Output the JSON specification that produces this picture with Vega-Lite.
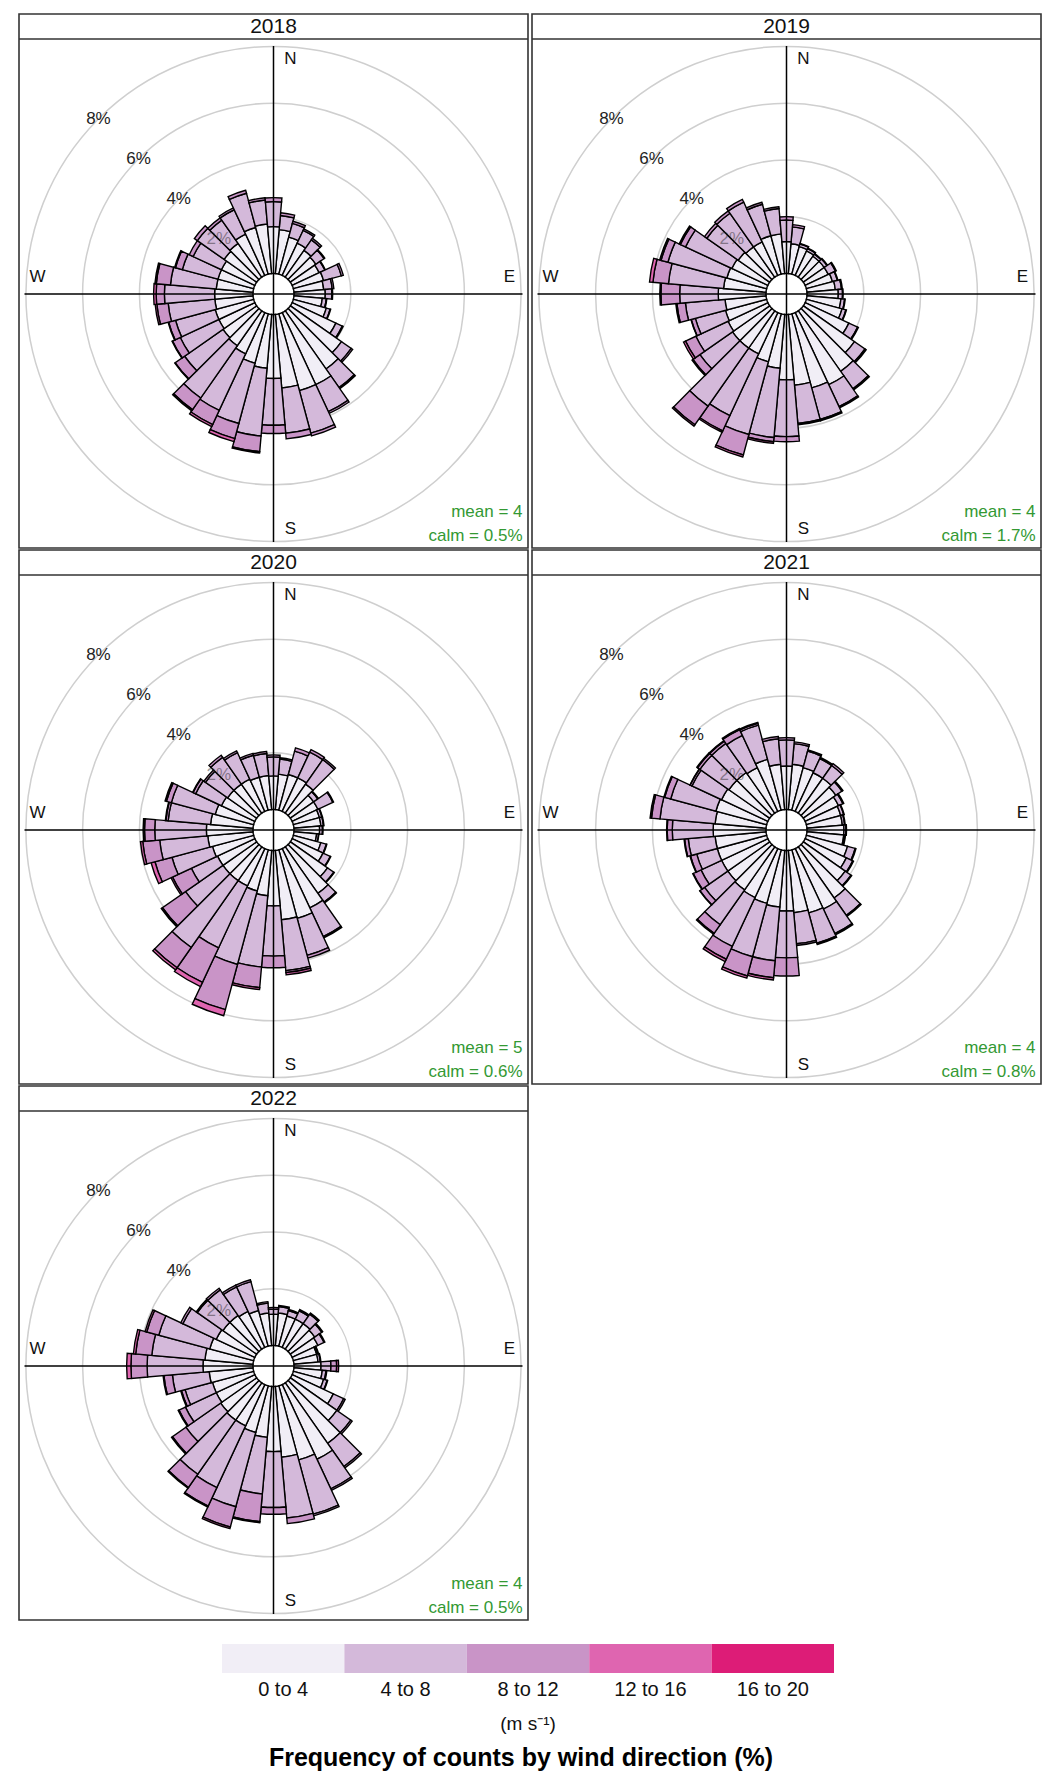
{
"$schema":"https://vega.github.io/schema/vega-lite/v6.json",
"padding":{"left":17,"top":13,"right":2,"bottom":0},
"background":"white",
"spacing":0,
"config":{"view":{"stroke":"#333333","strokeWidth":1.6},"font":"Liberation Sans","text":{"font":"Liberation Sans"}},
"datasets":{"rose":[
{"kind":"m","yr":2018,"mean_txt":"mean = 4","calm_txt":"calm = 0.5%"},
{"kind":"m","yr":2019,"mean_txt":"mean = 4","calm_txt":"calm = 1.7%"},
{"kind":"m","yr":2020,"mean_txt":"mean = 5","calm_txt":"calm = 0.6%"},
{"kind":"m","yr":2021,"mean_txt":"mean = 4","calm_txt":"calm = 0.8%"},
{"kind":"m","yr":2022,"mean_txt":"mean = 4","calm_txt":"calm = 0.5%"},
{"kind":"r","yr":2018,"g":2,"lab":"2%"},{"kind":"r","yr":2018,"g":4,"lab":"4%"},{"kind":"r","yr":2018,"g":6,"lab":"6%"},{"kind":"r","yr":2018,"g":8,"lab":"8%"},
{"kind":"r","yr":2019,"g":2,"lab":"2%"},{"kind":"r","yr":2019,"g":4,"lab":"4%"},{"kind":"r","yr":2019,"g":6,"lab":"6%"},{"kind":"r","yr":2019,"g":8,"lab":"8%"},
{"kind":"r","yr":2020,"g":2,"lab":"2%"},{"kind":"r","yr":2020,"g":4,"lab":"4%"},{"kind":"r","yr":2020,"g":6,"lab":"6%"},{"kind":"r","yr":2020,"g":8,"lab":"8%"},
{"kind":"r","yr":2021,"g":2,"lab":"2%"},{"kind":"r","yr":2021,"g":4,"lab":"4%"},{"kind":"r","yr":2021,"g":6,"lab":"6%"},{"kind":"r","yr":2021,"g":8,"lab":"8%"},
{"kind":"r","yr":2022,"g":2,"lab":"2%"},{"kind":"r","yr":2022,"g":4,"lab":"4%"},{"kind":"r","yr":2022,"g":6,"lab":"6%"},{"kind":"r","yr":2022,"g":8,"lab":"8%"},
{"kind":"w","yr":2018,"wd":10,"s1":1.55,"s2":0.50,"s3":0.10},
{"kind":"w","yr":2018,"wd":20,"s1":1.35,"s2":0.50,"s3":0.08},
{"kind":"w","yr":2018,"wd":30,"s1":1.25,"s2":0.50,"s3":0.06},
{"kind":"w","yr":2018,"wd":40,"s1":1.15,"s2":0.45,"s3":0.07},
{"kind":"w","yr":2018,"wd":50,"s1":1.10,"s2":0.35,"s3":0.03},
{"kind":"w","yr":2018,"wd":60,"s1":1.05,"s2":0.22,"s3":0.02},
{"kind":"w","yr":2018,"wd":70,"s1":1.10,"s2":0.65,"s3":0.07},
{"kind":"w","yr":2018,"wd":80,"s1":1.05,"s2":0.30,"s3":0.06},
{"kind":"w","yr":2018,"wd":90,"s1":1.10,"s2":0.23,"s3":0.03},
{"kind":"w","yr":2018,"wd":100,"s1":1.00,"s2":0.14,"s3":0.02},
{"kind":"w","yr":2018,"wd":110,"s1":1.20,"s2":0.14,"s3":0.02},
{"kind":"w","yr":2018,"wd":120,"s1":1.70,"s2":0.25,"s3":0.03},
{"kind":"w","yr":2018,"wd":130,"s1":2.20,"s2":0.42,"s3":0.06},
{"kind":"w","yr":2018,"wd":140,"s1":2.50,"s2":0.80,"s3":0.05},
{"kind":"w","yr":2018,"wd":150,"s1":2.80,"s2":1.05,"s3":0.07},
{"kind":"w","yr":2018,"wd":160,"s1":2.80,"s2":1.55,"s3":0.10},
{"kind":"w","yr":2018,"wd":170,"s1":2.60,"s2":1.60,"s3":0.20},
{"kind":"w","yr":2018,"wd":180,"s1":2.25,"s2":1.65,"s3":0.29},
{"kind":"w","yr":2018,"wd":190,"s1":1.90,"s2":2.40,"s3":0.55,"s4":0.05},
{"kind":"w","yr":2018,"wd":200,"s1":1.80,"s2":2.20,"s3":0.55,"s4":0.11},
{"kind":"w","yr":2018,"wd":210,"s1":1.60,"s2":2.20,"s3":0.55,"s4":0.08},
{"kind":"w","yr":2018,"wd":220,"s1":1.50,"s2":2.25,"s3":0.50,"s4":0.05},
{"kind":"w","yr":2018,"wd":230,"s1":1.45,"s2":1.65,"s3":0.40,"s4":0.02},
{"kind":"w","yr":2018,"wd":240,"s1":1.40,"s2":1.50,"s3":0.30,"s4":0.02},
{"kind":"w","yr":2018,"wd":250,"s1":1.40,"s2":1.45,"s3":0.25,"s4":0.02},
{"kind":"w","yr":2018,"wd":260,"s1":1.35,"s2":1.65,"s3":0.40,"s4":0.06},
{"kind":"w","yr":2018,"wd":270,"s1":1.35,"s2":1.77,"s3":0.29,"s4":0.09},
{"kind":"w","yr":2018,"wd":280,"s1":1.30,"s2":1.62,"s3":0.50,"s4":0.05},
{"kind":"w","yr":2018,"wd":290,"s1":1.30,"s2":1.30,"s3":0.25,"s4":0.03},
{"kind":"w","yr":2018,"wd":300,"s1":1.30,"s2":1.10,"s3":0.15},
{"kind":"w","yr":2018,"wd":310,"s1":1.40,"s2":1.15,"s3":0.13},
{"kind":"w","yr":2018,"wd":320,"s1":1.45,"s2":1.00,"s3":0.10},
{"kind":"w","yr":2018,"wd":330,"s1":1.60,"s2":0.95,"s3":0.07},
{"kind":"w","yr":2018,"wd":340,"s1":1.70,"s2":1.25,"s3":0.11},
{"kind":"w","yr":2018,"wd":350,"s1":1.75,"s2":0.85,"s3":0.08},
{"kind":"w","yr":2018,"wd":360,"s1":1.65,"s2":0.88,"s3":0.14},
{"kind":"w","yr":2019,"wd":10,"s1":1.05,"s2":0.60,"s3":0.08},
{"kind":"w","yr":2019,"wd":20,"s1":1.00,"s2":0.10,"s3":0.02},
{"kind":"w","yr":2019,"wd":30,"s1":0.95,"s2":0.09,"s3":0.02},
{"kind":"w","yr":2019,"wd":40,"s1":0.90,"s2":0.09,"s3":0.02},
{"kind":"w","yr":2019,"wd":50,"s1":0.90,"s2":0.12,"s3":0.02},
{"kind":"w","yr":2019,"wd":60,"s1":0.90,"s2":0.28,"s3":0.03},
{"kind":"w","yr":2019,"wd":70,"s1":0.95,"s2":0.18,"s3":0.02},
{"kind":"w","yr":2019,"wd":80,"s1":1.00,"s2":0.22,"s3":0.03},
{"kind":"w","yr":2019,"wd":90,"s1":1.10,"s2":0.15,"s3":0.02},
{"kind":"w","yr":2019,"wd":100,"s1":1.20,"s2":0.13,"s3":0.02},
{"kind":"w","yr":2019,"wd":110,"s1":1.30,"s2":0.14,"s3":0.02},
{"kind":"w","yr":2019,"wd":120,"s1":1.70,"s2":0.34,"s3":0.03},
{"kind":"w","yr":2019,"wd":130,"s1":2.20,"s2":0.45,"s3":0.05},
{"kind":"w","yr":2019,"wd":140,"s1":2.60,"s2":0.75,"s3":0.05},
{"kind":"w","yr":2019,"wd":150,"s1":2.80,"s2":0.85,"s3":0.05},
{"kind":"w","yr":2019,"wd":160,"s1":2.70,"s2":1.15,"s3":0.05},
{"kind":"w","yr":2019,"wd":170,"s1":2.50,"s2":1.35,"s3":0.05},
{"kind":"w","yr":2019,"wd":180,"s1":2.30,"s2":2.00,"s3":0.18},
{"kind":"w","yr":2019,"wd":190,"s1":1.90,"s2":2.45,"s3":0.15,"s4":0.06},
{"kind":"w","yr":2019,"wd":200,"s1":1.75,"s2":2.65,"s3":0.75,"s4":0.07},
{"kind":"w","yr":2019,"wd":210,"s1":1.60,"s2":2.40,"s3":0.60,"s4":0.05},
{"kind":"w","yr":2019,"wd":220,"s1":1.60,"s2":2.50,"s3":0.80,"s4":0.06},
{"kind":"w","yr":2019,"wd":230,"s1":1.60,"s2":1.40,"s3":0.30,"s4":0.04},
{"kind":"w","yr":2019,"wd":240,"s1":1.55,"s2":1.25,"s3":0.40,"s4":0.08},
{"kind":"w","yr":2019,"wd":250,"s1":1.50,"s2":1.10,"s3":0.15,"s4":0.01},
{"kind":"w","yr":2019,"wd":260,"s1":1.45,"s2":1.40,"s3":0.30,"s4":0.04},
{"kind":"w","yr":2019,"wd":270,"s1":1.68,"s2":1.36,"s3":0.66,"s4":0.04},
{"kind":"w","yr":2019,"wd":280,"s1":1.50,"s2":1.95,"s3":0.55,"s4":0.12},
{"kind":"w","yr":2019,"wd":290,"s1":1.45,"s2":2.15,"s3":0.25,"s4":0.05},
{"kind":"w","yr":2019,"wd":300,"s1":1.40,"s2":1.80,"s3":0.20,"s4":0.05},
{"kind":"w","yr":2019,"wd":310,"s1":1.35,"s2":1.35,"s3":0.10},
{"kind":"w","yr":2019,"wd":320,"s1":1.30,"s2":1.45,"s3":0.10},
{"kind":"w","yr":2019,"wd":330,"s1":1.30,"s2":1.55,"s3":0.10},
{"kind":"w","yr":2019,"wd":340,"s1":1.40,"s2":1.15,"s3":0.07},
{"kind":"w","yr":2019,"wd":350,"s1":1.40,"s2":0.90,"s3":0.06},
{"kind":"w","yr":2019,"wd":360,"s1":1.12,"s2":0.76,"s3":0.12},
{"kind":"w","yr":2020,"wd":10,"s1":1.25,"s2":0.53,"s3":0.05},
{"kind":"w","yr":2020,"wd":20,"s1":1.30,"s2":0.85,"s3":0.12},
{"kind":"w","yr":2020,"wd":30,"s1":1.30,"s2":1.00,"s3":0.10},
{"kind":"w","yr":2020,"wd":40,"s1":1.25,"s2":1.05,"s3":0.06},
{"kind":"w","yr":2020,"wd":50,"s1":1.00,"s2":0.18,"s3":0.03},
{"kind":"w","yr":2020,"wd":60,"s1":1.00,"s2":0.58,"s3":0.03},
{"kind":"w","yr":2020,"wd":70,"s1":0.95,"s2":0.09,"s3":0.02},
{"kind":"w","yr":2020,"wd":80,"s1":0.95,"s2":0.09,"s3":0.02},
{"kind":"w","yr":2020,"wd":90,"s1":0.90,"s2":0.10,"s3":0.02},
{"kind":"w","yr":2020,"wd":100,"s1":0.80,"s2":0.07,"s3":0.01},
{"kind":"w","yr":2020,"wd":110,"s1":1.00,"s2":0.20,"s3":0.02},
{"kind":"w","yr":2020,"wd":120,"s1":1.20,"s2":0.28,"s3":0.02},
{"kind":"w","yr":2020,"wd":130,"s1":1.60,"s2":0.27,"s3":0.02},
{"kind":"w","yr":2020,"wd":140,"s1":2.00,"s2":0.38,"s3":0.03},
{"kind":"w","yr":2020,"wd":150,"s1":2.30,"s2":1.12,"s3":0.05},
{"kind":"w","yr":2020,"wd":160,"s1":2.50,"s2":1.35,"s3":0.10},
{"kind":"w","yr":2020,"wd":170,"s1":2.45,"s2":1.80,"s3":0.07,"s4":0.08},
{"kind":"w","yr":2020,"wd":180,"s1":1.95,"s2":1.77,"s3":0.41},
{"kind":"w","yr":2020,"wd":190,"s1":1.60,"s2":2.52,"s3":0.73,"s4":0.07},
{"kind":"w","yr":2020,"wd":200,"s1":1.50,"s2":2.68,"s3":1.65,"s4":0.22},
{"kind":"w","yr":2020,"wd":210,"s1":1.45,"s2":2.41,"s3":1.34,"s4":0.16},
{"kind":"w","yr":2020,"wd":220,"s1":1.45,"s2":2.88,"s3":0.87,"s4":0.09},
{"kind":"w","yr":2020,"wd":230,"s1":1.45,"s2":1.61,"s3":0.99,"s4":0.05},
{"kind":"w","yr":2020,"wd":240,"s1":1.45,"s2":1.02,"s3":0.73,"s4":0.06},
{"kind":"w","yr":2020,"wd":250,"s1":1.50,"s2":1.48,"s3":0.62,"s4":0.14},
{"kind":"w","yr":2020,"wd":260,"s1":1.60,"s2":1.70,"s3":0.60,"s4":0.08},
{"kind":"w","yr":2020,"wd":270,"s1":1.64,"s2":1.82,"s3":0.36,"s4":0.05},
{"kind":"w","yr":2020,"wd":280,"s1":1.50,"s2":1.50,"s3":0.08,"s4":0.02},
{"kind":"w","yr":2020,"wd":290,"s1":1.40,"s2":1.60,"s3":0.18,"s4":0.05},
{"kind":"w","yr":2020,"wd":300,"s1":1.30,"s2":1.00,"s3":0.10,"s4":0.02},
{"kind":"w","yr":2020,"wd":310,"s1":1.25,"s2":0.95,"s3":0.07},
{"kind":"w","yr":2020,"wd":320,"s1":1.25,"s2":1.15,"s3":0.09},
{"kind":"w","yr":2020,"wd":330,"s1":1.25,"s2":1.03,"s3":0.07},
{"kind":"w","yr":2020,"wd":340,"s1":1.20,"s2":0.80,"s3":0.07},
{"kind":"w","yr":2020,"wd":350,"s1":1.20,"s2":0.78,"s3":0.07},
{"kind":"w","yr":2020,"wd":360,"s1":1.18,"s2":0.67,"s3":0.07},
{"kind":"w","yr":2021,"wd":10,"s1":1.60,"s2":0.73,"s3":0.06},
{"kind":"w","yr":2021,"wd":20,"s1":1.55,"s2":0.60,"s3":0.05},
{"kind":"w","yr":2021,"wd":30,"s1":1.50,"s2":0.55,"s3":0.05},
{"kind":"w","yr":2021,"wd":40,"s1":1.50,"s2":0.55,"s3":0.08},
{"kind":"w","yr":2021,"wd":50,"s1":1.40,"s2":0.26,"s3":0.04},
{"kind":"w","yr":2021,"wd":60,"s1":1.30,"s2":0.17,"s3":0.03},
{"kind":"w","yr":2021,"wd":70,"s1":1.25,"s2":0.11,"s3":0.02},
{"kind":"w","yr":2021,"wd":80,"s1":1.25,"s2":0.08,"s3":0.02},
{"kind":"w","yr":2021,"wd":90,"s1":1.30,"s2":0.07,"s3":0.02},
{"kind":"w","yr":2021,"wd":100,"s1":1.30,"s2":0.04,"s3":0.02},
{"kind":"w","yr":2021,"wd":110,"s1":1.50,"s2":0.28,"s3":0.03},
{"kind":"w","yr":2021,"wd":120,"s1":1.60,"s2":0.25,"s3":0.03},
{"kind":"w","yr":2021,"wd":130,"s1":1.80,"s2":0.25,"s3":0.03},
{"kind":"w","yr":2021,"wd":140,"s1":2.20,"s2":0.75,"s3":0.04},
{"kind":"w","yr":2021,"wd":150,"s1":2.35,"s2":0.95,"s3":0.05},
{"kind":"w","yr":2021,"wd":160,"s1":2.30,"s2":1.10,"s3":0.05},
{"kind":"w","yr":2021,"wd":170,"s1":2.20,"s2":1.10,"s3":0.06},
{"kind":"w","yr":2021,"wd":180,"s1":2.13,"s2":1.65,"s3":0.64},
{"kind":"w","yr":2021,"wd":190,"s1":2.00,"s2":1.90,"s3":0.60,"s4":0.08},
{"kind":"w","yr":2021,"wd":200,"s1":1.95,"s2":1.95,"s3":0.70,"s4":0.08},
{"kind":"w","yr":2021,"wd":210,"s1":1.90,"s2":1.90,"s3":0.50,"s4":0.09},
{"kind":"w","yr":2021,"wd":220,"s1":1.85,"s2":1.50,"s3":0.37,"s4":0.04},
{"kind":"w","yr":2021,"wd":230,"s1":1.80,"s2":1.00,"s3":0.20,"s4":0.01},
{"kind":"w","yr":2021,"wd":240,"s1":1.80,"s2":0.80,"s3":0.30,"s4":0.02},
{"kind":"w","yr":2021,"wd":250,"s1":1.80,"s2":0.75,"s3":0.23,"s4":0.02},
{"kind":"w","yr":2021,"wd":260,"s1":1.80,"s2":0.95,"s3":0.13,"s4":0.02},
{"kind":"w","yr":2021,"wd":270,"s1":1.86,"s2":1.44,"s3":0.18,"s4":0.02},
{"kind":"w","yr":2021,"wd":280,"s1":1.80,"s2":1.95,"s3":0.30,"s4":0.05},
{"kind":"w","yr":2021,"wd":290,"s1":1.85,"s2":1.65,"s3":0.22,"s4":0.03},
{"kind":"w","yr":2021,"wd":300,"s1":1.80,"s2":1.15,"s3":0.07,"s4":0.01},
{"kind":"w","yr":2021,"wd":310,"s1":1.75,"s2":1.25,"s3":0.10,"s4":0.03},
{"kind":"w","yr":2021,"wd":320,"s1":1.75,"s2":1.25,"s3":0.10,"s4":0.02},
{"kind":"w","yr":2021,"wd":330,"s1":1.70,"s2":1.25,"s3":0.23,"s4":0.04},
{"kind":"w","yr":2021,"wd":340,"s1":1.85,"s2":1.25,"s3":0.07,"s4":0.03},
{"kind":"w","yr":2021,"wd":350,"s1":1.60,"s2":0.90,"s3":0.08},
{"kind":"w","yr":2021,"wd":360,"s1":1.53,"s2":0.92,"s3":0.08},
{"kind":"w","yr":2022,"wd":10,"s1":1.15,"s2":0.23,"s3":0.04},
{"kind":"w","yr":2022,"wd":20,"s1":1.10,"s2":0.20,"s3":0.04},
{"kind":"w","yr":2022,"wd":30,"s1":1.10,"s2":0.32,"s3":0.05},
{"kind":"w","yr":2022,"wd":40,"s1":1.10,"s2":0.40,"s3":0.05},
{"kind":"w","yr":2022,"wd":50,"s1":1.05,"s2":0.30,"s3":0.04},
{"kind":"w","yr":2022,"wd":60,"s1":1.00,"s2":0.24,"s3":0.03},
{"kind":"w","yr":2022,"wd":70,"s1":0.85,"s2":0.05,"s3":0.02},
{"kind":"w","yr":2022,"wd":80,"s1":0.85,"s2":0.08,"s3":0.02},
{"kind":"w","yr":2022,"wd":90,"s1":0.95,"s2":0.35,"s3":0.20,"s4":0.07},
{"kind":"w","yr":2022,"wd":100,"s1":1.00,"s2":0.13,"s3":0.03},
{"kind":"w","yr":2022,"wd":110,"s1":1.10,"s2":0.13,"s3":0.02},
{"kind":"w","yr":2022,"wd":120,"s1":1.60,"s2":0.40,"s3":0.06},
{"kind":"w","yr":2022,"wd":130,"s1":2.00,"s2":0.60,"s3":0.06},
{"kind":"w","yr":2022,"wd":140,"s1":2.60,"s2":1.00,"s3":0.06},
{"kind":"w","yr":2022,"wd":150,"s1":2.90,"s2":1.15,"s3":0.06},
{"kind":"w","yr":2022,"wd":160,"s1":2.70,"s2":1.98,"s3":0.06},
{"kind":"w","yr":2022,"wd":170,"s1":2.50,"s2":2.15,"s3":0.20},
{"kind":"w","yr":2022,"wd":180,"s1":2.29,"s2":1.97,"s3":0.24},
{"kind":"w","yr":2022,"wd":190,"s1":1.80,"s2":2.00,"s3":0.98,"s4":0.04},
{"kind":"w","yr":2022,"wd":200,"s1":1.70,"s2":2.71,"s3":0.74,"s4":0.06},
{"kind":"w","yr":2022,"wd":210,"s1":1.60,"s2":2.40,"s3":0.72,"s4":0.04},
{"kind":"w","yr":2022,"wd":220,"s1":1.60,"s2":2.33,"s3":0.57,"s4":0.03},
{"kind":"w","yr":2022,"wd":230,"s1":1.55,"s2":1.49,"s3":0.58,"s4":0.04},
{"kind":"w","yr":2022,"wd":240,"s1":1.50,"s2":1.20,"s3":0.25,"s4":0.03},
{"kind":"w","yr":2022,"wd":250,"s1":1.50,"s2":1.00,"s3":0.13,"s4":0.03},
{"kind":"w","yr":2022,"wd":260,"s1":1.55,"s2":1.30,"s3":0.30,"s4":0.03},
{"kind":"w","yr":2022,"wd":270,"s1":1.76,"s2":1.97,"s3":0.57,"s4":0.15},
{"kind":"w","yr":2022,"wd":280,"s1":1.70,"s2":1.88,"s3":0.57,"s4":0.08},
{"kind":"w","yr":2022,"wd":290,"s1":1.60,"s2":1.86,"s3":0.44,"s4":0.06},
{"kind":"w","yr":2022,"wd":300,"s1":1.50,"s2":1.30,"s3":0.08},
{"kind":"w","yr":2022,"wd":310,"s1":1.45,"s2":1.10,"s3":0.05},
{"kind":"w","yr":2022,"wd":320,"s1":1.45,"s2":1.10,"s3":0.07},
{"kind":"w","yr":2022,"wd":330,"s1":1.40,"s2":0.95,"s3":0.07},
{"kind":"w","yr":2022,"wd":340,"s1":1.30,"s2":1.05,"s3":0.07},
{"kind":"w","yr":2022,"wd":350,"s1":1.15,"s2":0.35,"s3":0.05},
{"kind":"w","yr":2022,"wd":360,"s1":1.10,"s2":0.18,"s3":0.06}
]},
"vconcat":[
{"spacing":0,"hconcat":[
{"data":{"name":"rose"},"transform":[{"filter":{"field":"yr","equal":2018}}],"width":509,"height":534,
"layer":[
{"transform":[{"filter":{"field":"kind","equal":"r"}}],"mark":{"type":"arc","filled":false,"stroke":"#cfcfcf","color":"#cfcfcf","strokeWidth":1.5},
 "encoding":{"x":{"datum":0,"type":"quantitative","scale":{"domain":[-254.5,254.5],"nice":false,"zero":false},"axis":null},"y":{"datum":0,"type":"quantitative","scale":{"domain":[-254,280],"nice":false,"zero":false},"axis":null},"radius":{"field":"g","type":"quantitative","stack":null,"scale":{"type":"linear","domain":[0,8],"range":[20.6,247.6],"zero":false,"nice":false}}}},
{"transform":[{"filter":{"field":"kind","equal":"w"}},{"fold":["s1","s2","s3","s4","s5"],"as":["k","f"]},{"filter":{"field":"f","gt":0}},{"stack":"f","groupby":["yr","wd"],"sort":[{"field":"k","order":"ascending"}],"as":["r0","r1"]}],
 "mark":{"type":"arc","stroke":"#000000","strokeWidth":1.4},
 "encoding":{"x":{"datum":0,"type":"quantitative"},"y":{"datum":0,"type":"quantitative"},"theta":{"field":"wd","type":"ordinal","scale":{"type":"band","domain":[360,10,20,30,40,50,60,70,80,90,100,110,120,130,140,150,160,170,180,190,200,210,220,230,240,250,260,270,280,290,300,310,320,330,340,350],"range":[-0.0872665,6.1959188],"paddingInner":0,"paddingOuter":0}},"radius":{"field":"r1","type":"quantitative","stack":null},"radius2":{"field":"r0"},"color":{"field":"k","type":"nominal","scale":{"domain":["s1","s2","s3","s4","s5"],"range":["#F1EEF6","#D4B9DA","#C994C7","#DF65B0","#DD1C77"]},"legend":null}}},
{"transform":[{"filter":{"field":"kind","equal":"r"}}],"mark":{"type":"text","theta":5.4977871,"fontSize":17,"align":"center","baseline":"middle","color":"#222222"},
 "encoding":{"x":{"datum":0,"type":"quantitative"},"y":{"datum":0,"type":"quantitative"},"radius":{"field":"g","type":"quantitative","stack":null},"text":{"field":"lab","type":"nominal"},"opacity":{"condition":{"test":"datum.g == 2","value":0.45},"value":1}}},
{"transform":[{"filter":{"field":"kind","equal":"m"}}],"mark":{"type":"rule","stroke":"#000000","strokeWidth":1.5},"encoding":{"x":{"datum":0,"type":"quantitative"},"y":{"datum":-248,"type":"quantitative"},"y2":{"datum":248}}},
{"transform":[{"filter":{"field":"kind","equal":"m"}}],"mark":{"type":"rule","stroke":"#000000","strokeWidth":1.5},"encoding":{"x":{"datum":-249,"type":"quantitative"},"x2":{"datum":249},"y":{"datum":0,"type":"quantitative"}}},
{"transform":[{"filter":{"field":"kind","equal":"m"}}],"mark":{"type":"rule","stroke":"#333333","strokeWidth":1.6},"encoding":{"x":{"datum":-254.5,"type":"quantitative"},"x2":{"datum":254.5},"y":{"datum":255,"type":"quantitative"}}},
{"transform":[{"filter":{"field":"kind","equal":"m"}}],"mark":{"type":"text","fontSize":21,"align":"center","baseline":"middle","color":"#111111"},"encoding":{"x":{"datum":0,"type":"quantitative"},"y":{"datum":267.5,"type":"quantitative"},"text":{"field":"yr","type":"nominal"}}},
{"transform":[{"filter":{"field":"kind","equal":"m"}}],"mark":{"type":"text","text":"N","fontSize":17,"align":"center","baseline":"middle","color":"#111111"},"encoding":{"x":{"datum":17,"type":"quantitative"},"y":{"datum":235,"type":"quantitative"}}},
{"transform":[{"filter":{"field":"kind","equal":"m"}}],"mark":{"type":"text","text":"S","fontSize":17,"align":"center","baseline":"middle","color":"#111111"},"encoding":{"x":{"datum":17,"type":"quantitative"},"y":{"datum":-235,"type":"quantitative"}}},
{"transform":[{"filter":{"field":"kind","equal":"m"}}],"mark":{"type":"text","text":"W","fontSize":17,"align":"center","baseline":"middle","color":"#111111"},"encoding":{"x":{"datum":-236,"type":"quantitative"},"y":{"datum":17,"type":"quantitative"}}},
{"transform":[{"filter":{"field":"kind","equal":"m"}}],"mark":{"type":"text","text":"E","fontSize":17,"align":"center","baseline":"middle","color":"#111111"},"encoding":{"x":{"datum":236,"type":"quantitative"},"y":{"datum":17,"type":"quantitative"}}},
{"transform":[{"filter":{"field":"kind","equal":"m"}}],"mark":{"type":"text","fontSize":17,"align":"right","baseline":"middle","color":"#339933"},"encoding":{"x":{"datum":249,"type":"quantitative"},"y":{"datum":-218,"type":"quantitative"},"text":{"field":"mean_txt","type":"nominal"}}},
{"transform":[{"filter":{"field":"kind","equal":"m"}}],"mark":{"type":"text","fontSize":17,"align":"right","baseline":"middle","color":"#339933"},"encoding":{"x":{"datum":249,"type":"quantitative"},"y":{"datum":-242,"type":"quantitative"},"text":{"field":"calm_txt","type":"nominal"}}}
]},
{"data":{"name":"rose"},"transform":[{"filter":{"field":"yr","equal":2019}}],"width":509,"height":534,
"layer":[
{"transform":[{"filter":{"field":"kind","equal":"r"}}],"mark":{"type":"arc","filled":false,"stroke":"#cfcfcf","color":"#cfcfcf","strokeWidth":1.5},
 "encoding":{"x":{"datum":0,"type":"quantitative","scale":{"domain":[-254.5,254.5],"nice":false,"zero":false},"axis":null},"y":{"datum":0,"type":"quantitative","scale":{"domain":[-254,280],"nice":false,"zero":false},"axis":null},"radius":{"field":"g","type":"quantitative","stack":null,"scale":{"type":"linear","domain":[0,8],"range":[20.6,247.6],"zero":false,"nice":false}}}},
{"transform":[{"filter":{"field":"kind","equal":"w"}},{"fold":["s1","s2","s3","s4","s5"],"as":["k","f"]},{"filter":{"field":"f","gt":0}},{"stack":"f","groupby":["yr","wd"],"sort":[{"field":"k","order":"ascending"}],"as":["r0","r1"]}],
 "mark":{"type":"arc","stroke":"#000000","strokeWidth":1.4},
 "encoding":{"x":{"datum":0,"type":"quantitative"},"y":{"datum":0,"type":"quantitative"},"theta":{"field":"wd","type":"ordinal","scale":{"type":"band","domain":[360,10,20,30,40,50,60,70,80,90,100,110,120,130,140,150,160,170,180,190,200,210,220,230,240,250,260,270,280,290,300,310,320,330,340,350],"range":[-0.0872665,6.1959188],"paddingInner":0,"paddingOuter":0}},"radius":{"field":"r1","type":"quantitative","stack":null},"radius2":{"field":"r0"},"color":{"field":"k","type":"nominal","scale":{"domain":["s1","s2","s3","s4","s5"],"range":["#F1EEF6","#D4B9DA","#C994C7","#DF65B0","#DD1C77"]},"legend":null}}},
{"transform":[{"filter":{"field":"kind","equal":"r"}}],"mark":{"type":"text","theta":5.4977871,"fontSize":17,"align":"center","baseline":"middle","color":"#222222"},
 "encoding":{"x":{"datum":0,"type":"quantitative"},"y":{"datum":0,"type":"quantitative"},"radius":{"field":"g","type":"quantitative","stack":null},"text":{"field":"lab","type":"nominal"},"opacity":{"condition":{"test":"datum.g == 2","value":0.45},"value":1}}},
{"transform":[{"filter":{"field":"kind","equal":"m"}}],"mark":{"type":"rule","stroke":"#000000","strokeWidth":1.5},"encoding":{"x":{"datum":0,"type":"quantitative"},"y":{"datum":-248,"type":"quantitative"},"y2":{"datum":248}}},
{"transform":[{"filter":{"field":"kind","equal":"m"}}],"mark":{"type":"rule","stroke":"#000000","strokeWidth":1.5},"encoding":{"x":{"datum":-249,"type":"quantitative"},"x2":{"datum":249},"y":{"datum":0,"type":"quantitative"}}},
{"transform":[{"filter":{"field":"kind","equal":"m"}}],"mark":{"type":"rule","stroke":"#333333","strokeWidth":1.6},"encoding":{"x":{"datum":-254.5,"type":"quantitative"},"x2":{"datum":254.5},"y":{"datum":255,"type":"quantitative"}}},
{"transform":[{"filter":{"field":"kind","equal":"m"}}],"mark":{"type":"text","fontSize":21,"align":"center","baseline":"middle","color":"#111111"},"encoding":{"x":{"datum":0,"type":"quantitative"},"y":{"datum":267.5,"type":"quantitative"},"text":{"field":"yr","type":"nominal"}}},
{"transform":[{"filter":{"field":"kind","equal":"m"}}],"mark":{"type":"text","text":"N","fontSize":17,"align":"center","baseline":"middle","color":"#111111"},"encoding":{"x":{"datum":17,"type":"quantitative"},"y":{"datum":235,"type":"quantitative"}}},
{"transform":[{"filter":{"field":"kind","equal":"m"}}],"mark":{"type":"text","text":"S","fontSize":17,"align":"center","baseline":"middle","color":"#111111"},"encoding":{"x":{"datum":17,"type":"quantitative"},"y":{"datum":-235,"type":"quantitative"}}},
{"transform":[{"filter":{"field":"kind","equal":"m"}}],"mark":{"type":"text","text":"W","fontSize":17,"align":"center","baseline":"middle","color":"#111111"},"encoding":{"x":{"datum":-236,"type":"quantitative"},"y":{"datum":17,"type":"quantitative"}}},
{"transform":[{"filter":{"field":"kind","equal":"m"}}],"mark":{"type":"text","text":"E","fontSize":17,"align":"center","baseline":"middle","color":"#111111"},"encoding":{"x":{"datum":236,"type":"quantitative"},"y":{"datum":17,"type":"quantitative"}}},
{"transform":[{"filter":{"field":"kind","equal":"m"}}],"mark":{"type":"text","fontSize":17,"align":"right","baseline":"middle","color":"#339933"},"encoding":{"x":{"datum":249,"type":"quantitative"},"y":{"datum":-218,"type":"quantitative"},"text":{"field":"mean_txt","type":"nominal"}}},
{"transform":[{"filter":{"field":"kind","equal":"m"}}],"mark":{"type":"text","fontSize":17,"align":"right","baseline":"middle","color":"#339933"},"encoding":{"x":{"datum":249,"type":"quantitative"},"y":{"datum":-242,"type":"quantitative"},"text":{"field":"calm_txt","type":"nominal"}}}
]}
]},
{"spacing":0,"hconcat":[
{"data":{"name":"rose"},"transform":[{"filter":{"field":"yr","equal":2020}}],"width":509,"height":534,
"layer":[
{"transform":[{"filter":{"field":"kind","equal":"r"}}],"mark":{"type":"arc","filled":false,"stroke":"#cfcfcf","color":"#cfcfcf","strokeWidth":1.5},
 "encoding":{"x":{"datum":0,"type":"quantitative","scale":{"domain":[-254.5,254.5],"nice":false,"zero":false},"axis":null},"y":{"datum":0,"type":"quantitative","scale":{"domain":[-254,280],"nice":false,"zero":false},"axis":null},"radius":{"field":"g","type":"quantitative","stack":null,"scale":{"type":"linear","domain":[0,8],"range":[20.6,247.6],"zero":false,"nice":false}}}},
{"transform":[{"filter":{"field":"kind","equal":"w"}},{"fold":["s1","s2","s3","s4","s5"],"as":["k","f"]},{"filter":{"field":"f","gt":0}},{"stack":"f","groupby":["yr","wd"],"sort":[{"field":"k","order":"ascending"}],"as":["r0","r1"]}],
 "mark":{"type":"arc","stroke":"#000000","strokeWidth":1.4},
 "encoding":{"x":{"datum":0,"type":"quantitative"},"y":{"datum":0,"type":"quantitative"},"theta":{"field":"wd","type":"ordinal","scale":{"type":"band","domain":[360,10,20,30,40,50,60,70,80,90,100,110,120,130,140,150,160,170,180,190,200,210,220,230,240,250,260,270,280,290,300,310,320,330,340,350],"range":[-0.0872665,6.1959188],"paddingInner":0,"paddingOuter":0}},"radius":{"field":"r1","type":"quantitative","stack":null},"radius2":{"field":"r0"},"color":{"field":"k","type":"nominal","scale":{"domain":["s1","s2","s3","s4","s5"],"range":["#F1EEF6","#D4B9DA","#C994C7","#DF65B0","#DD1C77"]},"legend":null}}},
{"transform":[{"filter":{"field":"kind","equal":"r"}}],"mark":{"type":"text","theta":5.4977871,"fontSize":17,"align":"center","baseline":"middle","color":"#222222"},
 "encoding":{"x":{"datum":0,"type":"quantitative"},"y":{"datum":0,"type":"quantitative"},"radius":{"field":"g","type":"quantitative","stack":null},"text":{"field":"lab","type":"nominal"},"opacity":{"condition":{"test":"datum.g == 2","value":0.45},"value":1}}},
{"transform":[{"filter":{"field":"kind","equal":"m"}}],"mark":{"type":"rule","stroke":"#000000","strokeWidth":1.5},"encoding":{"x":{"datum":0,"type":"quantitative"},"y":{"datum":-248,"type":"quantitative"},"y2":{"datum":248}}},
{"transform":[{"filter":{"field":"kind","equal":"m"}}],"mark":{"type":"rule","stroke":"#000000","strokeWidth":1.5},"encoding":{"x":{"datum":-249,"type":"quantitative"},"x2":{"datum":249},"y":{"datum":0,"type":"quantitative"}}},
{"transform":[{"filter":{"field":"kind","equal":"m"}}],"mark":{"type":"rule","stroke":"#333333","strokeWidth":1.6},"encoding":{"x":{"datum":-254.5,"type":"quantitative"},"x2":{"datum":254.5},"y":{"datum":255,"type":"quantitative"}}},
{"transform":[{"filter":{"field":"kind","equal":"m"}}],"mark":{"type":"text","fontSize":21,"align":"center","baseline":"middle","color":"#111111"},"encoding":{"x":{"datum":0,"type":"quantitative"},"y":{"datum":267.5,"type":"quantitative"},"text":{"field":"yr","type":"nominal"}}},
{"transform":[{"filter":{"field":"kind","equal":"m"}}],"mark":{"type":"text","text":"N","fontSize":17,"align":"center","baseline":"middle","color":"#111111"},"encoding":{"x":{"datum":17,"type":"quantitative"},"y":{"datum":235,"type":"quantitative"}}},
{"transform":[{"filter":{"field":"kind","equal":"m"}}],"mark":{"type":"text","text":"S","fontSize":17,"align":"center","baseline":"middle","color":"#111111"},"encoding":{"x":{"datum":17,"type":"quantitative"},"y":{"datum":-235,"type":"quantitative"}}},
{"transform":[{"filter":{"field":"kind","equal":"m"}}],"mark":{"type":"text","text":"W","fontSize":17,"align":"center","baseline":"middle","color":"#111111"},"encoding":{"x":{"datum":-236,"type":"quantitative"},"y":{"datum":17,"type":"quantitative"}}},
{"transform":[{"filter":{"field":"kind","equal":"m"}}],"mark":{"type":"text","text":"E","fontSize":17,"align":"center","baseline":"middle","color":"#111111"},"encoding":{"x":{"datum":236,"type":"quantitative"},"y":{"datum":17,"type":"quantitative"}}},
{"transform":[{"filter":{"field":"kind","equal":"m"}}],"mark":{"type":"text","fontSize":17,"align":"right","baseline":"middle","color":"#339933"},"encoding":{"x":{"datum":249,"type":"quantitative"},"y":{"datum":-218,"type":"quantitative"},"text":{"field":"mean_txt","type":"nominal"}}},
{"transform":[{"filter":{"field":"kind","equal":"m"}}],"mark":{"type":"text","fontSize":17,"align":"right","baseline":"middle","color":"#339933"},"encoding":{"x":{"datum":249,"type":"quantitative"},"y":{"datum":-242,"type":"quantitative"},"text":{"field":"calm_txt","type":"nominal"}}}
]},
{"data":{"name":"rose"},"transform":[{"filter":{"field":"yr","equal":2021}}],"width":509,"height":534,
"layer":[
{"transform":[{"filter":{"field":"kind","equal":"r"}}],"mark":{"type":"arc","filled":false,"stroke":"#cfcfcf","color":"#cfcfcf","strokeWidth":1.5},
 "encoding":{"x":{"datum":0,"type":"quantitative","scale":{"domain":[-254.5,254.5],"nice":false,"zero":false},"axis":null},"y":{"datum":0,"type":"quantitative","scale":{"domain":[-254,280],"nice":false,"zero":false},"axis":null},"radius":{"field":"g","type":"quantitative","stack":null,"scale":{"type":"linear","domain":[0,8],"range":[20.6,247.6],"zero":false,"nice":false}}}},
{"transform":[{"filter":{"field":"kind","equal":"w"}},{"fold":["s1","s2","s3","s4","s5"],"as":["k","f"]},{"filter":{"field":"f","gt":0}},{"stack":"f","groupby":["yr","wd"],"sort":[{"field":"k","order":"ascending"}],"as":["r0","r1"]}],
 "mark":{"type":"arc","stroke":"#000000","strokeWidth":1.4},
 "encoding":{"x":{"datum":0,"type":"quantitative"},"y":{"datum":0,"type":"quantitative"},"theta":{"field":"wd","type":"ordinal","scale":{"type":"band","domain":[360,10,20,30,40,50,60,70,80,90,100,110,120,130,140,150,160,170,180,190,200,210,220,230,240,250,260,270,280,290,300,310,320,330,340,350],"range":[-0.0872665,6.1959188],"paddingInner":0,"paddingOuter":0}},"radius":{"field":"r1","type":"quantitative","stack":null},"radius2":{"field":"r0"},"color":{"field":"k","type":"nominal","scale":{"domain":["s1","s2","s3","s4","s5"],"range":["#F1EEF6","#D4B9DA","#C994C7","#DF65B0","#DD1C77"]},"legend":null}}},
{"transform":[{"filter":{"field":"kind","equal":"r"}}],"mark":{"type":"text","theta":5.4977871,"fontSize":17,"align":"center","baseline":"middle","color":"#222222"},
 "encoding":{"x":{"datum":0,"type":"quantitative"},"y":{"datum":0,"type":"quantitative"},"radius":{"field":"g","type":"quantitative","stack":null},"text":{"field":"lab","type":"nominal"},"opacity":{"condition":{"test":"datum.g == 2","value":0.45},"value":1}}},
{"transform":[{"filter":{"field":"kind","equal":"m"}}],"mark":{"type":"rule","stroke":"#000000","strokeWidth":1.5},"encoding":{"x":{"datum":0,"type":"quantitative"},"y":{"datum":-248,"type":"quantitative"},"y2":{"datum":248}}},
{"transform":[{"filter":{"field":"kind","equal":"m"}}],"mark":{"type":"rule","stroke":"#000000","strokeWidth":1.5},"encoding":{"x":{"datum":-249,"type":"quantitative"},"x2":{"datum":249},"y":{"datum":0,"type":"quantitative"}}},
{"transform":[{"filter":{"field":"kind","equal":"m"}}],"mark":{"type":"rule","stroke":"#333333","strokeWidth":1.6},"encoding":{"x":{"datum":-254.5,"type":"quantitative"},"x2":{"datum":254.5},"y":{"datum":255,"type":"quantitative"}}},
{"transform":[{"filter":{"field":"kind","equal":"m"}}],"mark":{"type":"text","fontSize":21,"align":"center","baseline":"middle","color":"#111111"},"encoding":{"x":{"datum":0,"type":"quantitative"},"y":{"datum":267.5,"type":"quantitative"},"text":{"field":"yr","type":"nominal"}}},
{"transform":[{"filter":{"field":"kind","equal":"m"}}],"mark":{"type":"text","text":"N","fontSize":17,"align":"center","baseline":"middle","color":"#111111"},"encoding":{"x":{"datum":17,"type":"quantitative"},"y":{"datum":235,"type":"quantitative"}}},
{"transform":[{"filter":{"field":"kind","equal":"m"}}],"mark":{"type":"text","text":"S","fontSize":17,"align":"center","baseline":"middle","color":"#111111"},"encoding":{"x":{"datum":17,"type":"quantitative"},"y":{"datum":-235,"type":"quantitative"}}},
{"transform":[{"filter":{"field":"kind","equal":"m"}}],"mark":{"type":"text","text":"W","fontSize":17,"align":"center","baseline":"middle","color":"#111111"},"encoding":{"x":{"datum":-236,"type":"quantitative"},"y":{"datum":17,"type":"quantitative"}}},
{"transform":[{"filter":{"field":"kind","equal":"m"}}],"mark":{"type":"text","text":"E","fontSize":17,"align":"center","baseline":"middle","color":"#111111"},"encoding":{"x":{"datum":236,"type":"quantitative"},"y":{"datum":17,"type":"quantitative"}}},
{"transform":[{"filter":{"field":"kind","equal":"m"}}],"mark":{"type":"text","fontSize":17,"align":"right","baseline":"middle","color":"#339933"},"encoding":{"x":{"datum":249,"type":"quantitative"},"y":{"datum":-218,"type":"quantitative"},"text":{"field":"mean_txt","type":"nominal"}}},
{"transform":[{"filter":{"field":"kind","equal":"m"}}],"mark":{"type":"text","fontSize":17,"align":"right","baseline":"middle","color":"#339933"},"encoding":{"x":{"datum":249,"type":"quantitative"},"y":{"datum":-242,"type":"quantitative"},"text":{"field":"calm_txt","type":"nominal"}}}
]}
]},
{"spacing":0,"hconcat":[
{"data":{"name":"rose"},"transform":[{"filter":{"field":"yr","equal":2022}}],"width":509,"height":534,
"layer":[
{"transform":[{"filter":{"field":"kind","equal":"r"}}],"mark":{"type":"arc","filled":false,"stroke":"#cfcfcf","color":"#cfcfcf","strokeWidth":1.5},
 "encoding":{"x":{"datum":0,"type":"quantitative","scale":{"domain":[-254.5,254.5],"nice":false,"zero":false},"axis":null},"y":{"datum":0,"type":"quantitative","scale":{"domain":[-254,280],"nice":false,"zero":false},"axis":null},"radius":{"field":"g","type":"quantitative","stack":null,"scale":{"type":"linear","domain":[0,8],"range":[20.6,247.6],"zero":false,"nice":false}}}},
{"transform":[{"filter":{"field":"kind","equal":"w"}},{"fold":["s1","s2","s3","s4","s5"],"as":["k","f"]},{"filter":{"field":"f","gt":0}},{"stack":"f","groupby":["yr","wd"],"sort":[{"field":"k","order":"ascending"}],"as":["r0","r1"]}],
 "mark":{"type":"arc","stroke":"#000000","strokeWidth":1.4},
 "encoding":{"x":{"datum":0,"type":"quantitative"},"y":{"datum":0,"type":"quantitative"},"theta":{"field":"wd","type":"ordinal","scale":{"type":"band","domain":[360,10,20,30,40,50,60,70,80,90,100,110,120,130,140,150,160,170,180,190,200,210,220,230,240,250,260,270,280,290,300,310,320,330,340,350],"range":[-0.0872665,6.1959188],"paddingInner":0,"paddingOuter":0}},"radius":{"field":"r1","type":"quantitative","stack":null},"radius2":{"field":"r0"},"color":{"field":"k","type":"nominal","scale":{"domain":["s1","s2","s3","s4","s5"],"range":["#F1EEF6","#D4B9DA","#C994C7","#DF65B0","#DD1C77"]},"legend":null}}},
{"transform":[{"filter":{"field":"kind","equal":"r"}}],"mark":{"type":"text","theta":5.4977871,"fontSize":17,"align":"center","baseline":"middle","color":"#222222"},
 "encoding":{"x":{"datum":0,"type":"quantitative"},"y":{"datum":0,"type":"quantitative"},"radius":{"field":"g","type":"quantitative","stack":null},"text":{"field":"lab","type":"nominal"},"opacity":{"condition":{"test":"datum.g == 2","value":0.45},"value":1}}},
{"transform":[{"filter":{"field":"kind","equal":"m"}}],"mark":{"type":"rule","stroke":"#000000","strokeWidth":1.5},"encoding":{"x":{"datum":0,"type":"quantitative"},"y":{"datum":-248,"type":"quantitative"},"y2":{"datum":248}}},
{"transform":[{"filter":{"field":"kind","equal":"m"}}],"mark":{"type":"rule","stroke":"#000000","strokeWidth":1.5},"encoding":{"x":{"datum":-249,"type":"quantitative"},"x2":{"datum":249},"y":{"datum":0,"type":"quantitative"}}},
{"transform":[{"filter":{"field":"kind","equal":"m"}}],"mark":{"type":"rule","stroke":"#333333","strokeWidth":1.6},"encoding":{"x":{"datum":-254.5,"type":"quantitative"},"x2":{"datum":254.5},"y":{"datum":255,"type":"quantitative"}}},
{"transform":[{"filter":{"field":"kind","equal":"m"}}],"mark":{"type":"text","fontSize":21,"align":"center","baseline":"middle","color":"#111111"},"encoding":{"x":{"datum":0,"type":"quantitative"},"y":{"datum":267.5,"type":"quantitative"},"text":{"field":"yr","type":"nominal"}}},
{"transform":[{"filter":{"field":"kind","equal":"m"}}],"mark":{"type":"text","text":"N","fontSize":17,"align":"center","baseline":"middle","color":"#111111"},"encoding":{"x":{"datum":17,"type":"quantitative"},"y":{"datum":235,"type":"quantitative"}}},
{"transform":[{"filter":{"field":"kind","equal":"m"}}],"mark":{"type":"text","text":"S","fontSize":17,"align":"center","baseline":"middle","color":"#111111"},"encoding":{"x":{"datum":17,"type":"quantitative"},"y":{"datum":-235,"type":"quantitative"}}},
{"transform":[{"filter":{"field":"kind","equal":"m"}}],"mark":{"type":"text","text":"W","fontSize":17,"align":"center","baseline":"middle","color":"#111111"},"encoding":{"x":{"datum":-236,"type":"quantitative"},"y":{"datum":17,"type":"quantitative"}}},
{"transform":[{"filter":{"field":"kind","equal":"m"}}],"mark":{"type":"text","text":"E","fontSize":17,"align":"center","baseline":"middle","color":"#111111"},"encoding":{"x":{"datum":236,"type":"quantitative"},"y":{"datum":17,"type":"quantitative"}}},
{"transform":[{"filter":{"field":"kind","equal":"m"}}],"mark":{"type":"text","fontSize":17,"align":"right","baseline":"middle","color":"#339933"},"encoding":{"x":{"datum":249,"type":"quantitative"},"y":{"datum":-218,"type":"quantitative"},"text":{"field":"mean_txt","type":"nominal"}}},
{"transform":[{"filter":{"field":"kind","equal":"m"}}],"mark":{"type":"text","fontSize":17,"align":"right","baseline":"middle","color":"#339933"},"encoding":{"x":{"datum":249,"type":"quantitative"},"y":{"datum":-242,"type":"quantitative"},"text":{"field":"calm_txt","type":"nominal"}}}
]}
]},
{
"width":1018,
"height":150,
"view":{"stroke":null},
"data":{"values":[{"k":"s1","lab":"0 to 4"},{"k":"s2","lab":"4 to 8"},{"k":"s3","lab":"8 to 12"},{"k":"s4","lab":"12 to 16"},{"k":"s5","lab":"16 to 20"}]},
"layer":[
{"mark":{"type":"rect"},
 "encoding":{
  "x":{"field":"k","type":"nominal","scale":{"type":"band","domain":["s1","s2","s3","s4","s5"],"range":[203,815],"paddingInner":0,"paddingOuter":0},"axis":null},
  "y":{"datum":23,"type":"quantitative","scale":{"domain":[0,150],"reverse":true,"nice":false,"zero":false},"axis":null},
  "y2":{"datum":52},
  "color":{"field":"k","type":"nominal","scale":{"domain":["s1","s2","s3","s4","s5"],"range":["#F1EEF6","#D4B9DA","#C994C7","#DF65B0","#DD1C77"]},"legend":null}
 }},
{"mark":{"type":"text","fontSize":20,"align":"center","baseline":"middle","color":"#111111"},
 "encoding":{
  "x":{"field":"k","type":"nominal"},
  "y":{"datum":69,"type":"quantitative"},
  "text":{"field":"lab","type":"nominal"}
 }},
{"data":{"values":[{"t":"(m s⁻¹)"}]},
 "mark":{"type":"text","fontSize":19,"align":"center","baseline":"middle","color":"#111111"},
 "encoding":{"y":{"datum":103,"type":"quantitative"},"text":{"field":"t","type":"nominal"}}},
{"data":{"values":[{"t":"Frequency of counts by wind direction (%)"}]},
 "mark":{"type":"text","fontSize":25,"fontWeight":"bold","align":"center","baseline":"middle","dx":-7,"color":"#000000"},
 "encoding":{"y":{"datum":137,"type":"quantitative"},"text":{"field":"t","type":"nominal"}}}
]
}
]
}
